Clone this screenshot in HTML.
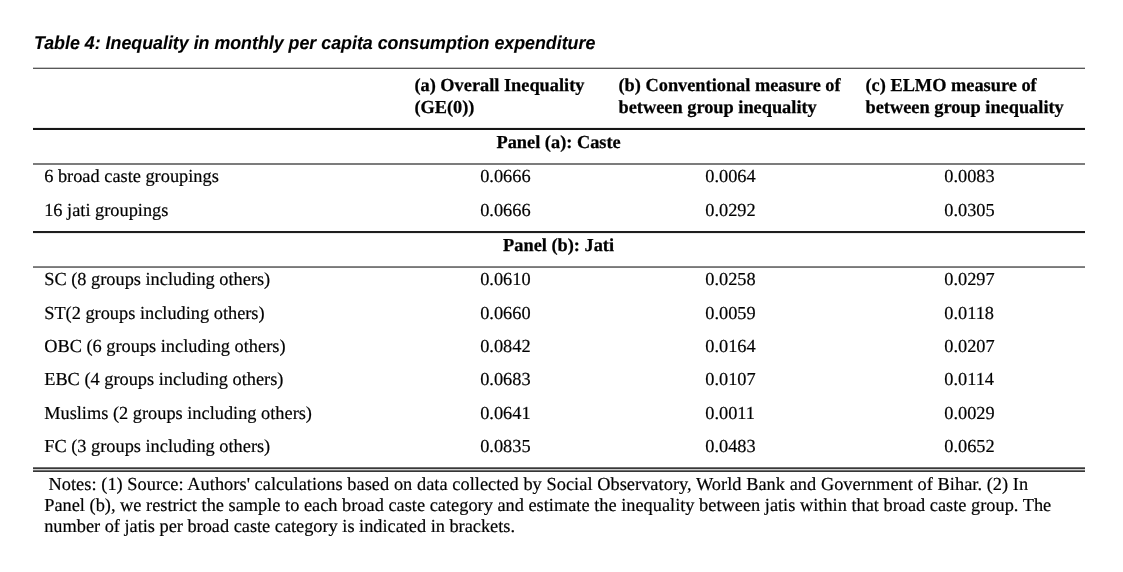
<!DOCTYPE html>
<html>
<head>
<meta charset="utf-8">
<title>Table 4</title>
<style>
html,body{margin:0;padding:0;background:#fff;}
body{width:1123px;height:572px;position:relative;overflow:hidden;-webkit-font-smoothing:antialiased;text-rendering:geometricPrecision;font-family:"Liberation Serif",serif;color:#000;}
.t{position:absolute;white-space:nowrap;line-height:1;font-size:18.33px;-webkit-text-stroke:0.2px #000;}
.b{font-weight:bold;color:#000;-webkit-text-stroke:0.25px #000;}
.title{position:absolute;white-space:nowrap;line-height:1;font-family:"Liberation Sans",sans-serif;font-weight:bold;font-style:italic;font-size:18.5px;color:#000;-webkit-text-stroke:0.12px #000;transform-origin:0 0;transform:scaleX(0.9625);}
.hl{position:absolute;left:33px;width:1052px;}
</style>
</head>
<body>
<div id="wrap" style="position:absolute;left:0;top:0;width:1123px;height:572px;will-change:transform;opacity:0.999;">
<div class="title" id="title" style="left:34.0px;top:33.6px;">Table 4: Inequality in monthly per capita consumption expenditure</div>

<div class="hl" style="top:67px;height:1px;background:#c4c4c4;"></div>
<div class="hl" style="top:68px;height:1px;background:#585858;"></div>
<div class="hl" style="top:127px;height:1px;background:#ececec;"></div>
<div class="hl" style="top:128px;height:2px;background:#161616;"></div>
<div class="hl" style="top:163px;height:2px;background:#7c7c7c;"></div>
<div class="hl" style="top:231px;height:2px;background:#1e1e1e;"></div>
<div class="hl" style="top:233px;height:1px;background:#ececec;"></div>
<div class="hl" style="top:266px;height:1px;background:#868686;"></div>
<div class="hl" style="top:267px;height:1px;background:#787878;"></div>
<div class="hl" style="top:467px;height:1px;background:#707070;"></div>
<div class="hl" style="top:468px;height:1px;background:#383838;"></div>
<div class="hl" style="top:469px;height:1px;background:#d0d0d0;"></div>
<div class="hl" style="top:470px;height:1px;background:#6c6c6c;"></div>
<div class="hl" style="top:471px;height:1px;background:#363636;"></div>

<div class="t b" style="left:414.40px;top:76.00px;">(a) Overall Inequality</div>
<div class="t b" style="left:414.40px;top:98.00px;">(GE(0))</div>
<div class="t b" style="left:618.50px;top:76.00px;">(b) Conventional measure of</div>
<div class="t b" style="left:618.50px;top:98.00px;">between group inequality</div>
<div class="t b" style="left:865.50px;top:76.00px;">(c) ELMO measure of</div>
<div class="t b" style="left:865.50px;top:98.00px;">between group inequality</div>
<div class="t b" style="left:496.50px;top:133.00px;">Panel (a): Caste</div>
<div class="t b" style="left:503.10px;top:236.00px;">Panel (b): Jati</div>
<div class="t " style="left:44.20px;top:167.00px;">6 broad caste groupings</div>
<div class="t " style="left:480.20px;top:167.00px;">0.0666</div>
<div class="t " style="left:705.30px;top:167.00px;">0.0064</div>
<div class="t " style="left:944.30px;top:167.00px;">0.0083</div>
<div class="t " style="left:44.20px;top:201.00px;">16 jati groupings</div>
<div class="t " style="left:480.20px;top:201.00px;">0.0666</div>
<div class="t " style="left:705.30px;top:201.00px;">0.0292</div>
<div class="t " style="left:944.30px;top:201.00px;">0.0305</div>
<div class="t " style="left:44.20px;top:270.00px;">SC (8 groups including others)</div>
<div class="t " style="left:480.20px;top:270.00px;">0.0610</div>
<div class="t " style="left:705.30px;top:270.00px;">0.0258</div>
<div class="t " style="left:944.30px;top:270.00px;">0.0297</div>
<div class="t " style="left:44.20px;top:304.00px;">ST(2 groups including others)</div>
<div class="t " style="left:480.20px;top:304.00px;">0.0660</div>
<div class="t " style="left:705.30px;top:304.00px;">0.0059</div>
<div class="t " style="left:944.30px;top:304.00px;">0.0118</div>
<div class="t " style="left:44.20px;top:337.00px;">OBC (6 groups including others)</div>
<div class="t " style="left:480.20px;top:337.00px;">0.0842</div>
<div class="t " style="left:705.30px;top:337.00px;">0.0164</div>
<div class="t " style="left:944.30px;top:337.00px;">0.0207</div>
<div class="t " style="left:44.20px;top:370.00px;">EBC (4 groups including others)</div>
<div class="t " style="left:480.20px;top:370.00px;">0.0683</div>
<div class="t " style="left:705.30px;top:370.00px;">0.0107</div>
<div class="t " style="left:944.30px;top:370.00px;">0.0114</div>
<div class="t " style="left:44.20px;top:404.00px;">Muslims (2 groups including others)</div>
<div class="t " style="left:480.20px;top:404.00px;">0.0641</div>
<div class="t " style="left:705.30px;top:404.00px;">0.0011</div>
<div class="t " style="left:944.30px;top:404.00px;">0.0029</div>
<div class="t " style="left:44.20px;top:437.00px;">FC (3 groups including others)</div>
<div class="t " style="left:480.20px;top:437.00px;">0.0835</div>
<div class="t " style="left:705.30px;top:437.00px;">0.0483</div>
<div class="t " style="left:944.30px;top:437.00px;">0.0652</div>
<div class="t " style="left:48.50px;top:475.00px;letter-spacing:0.044px;">Notes: (1) Source: Authors' calculations based on data collected by Social Observatory, World Bank and Government of Bihar. (2) In</div>
<div class="t " style="left:44.20px;top:496.00px;letter-spacing:0.005px;">Panel (b), we restrict the sample to each broad caste category and estimate the inequality between jatis within that broad caste group. The</div>
<div class="t " style="left:44.20px;top:517.00px;letter-spacing:-0.015px;">number of jatis per broad caste category is indicated in brackets.</div>
</div>
</body>
</html>
